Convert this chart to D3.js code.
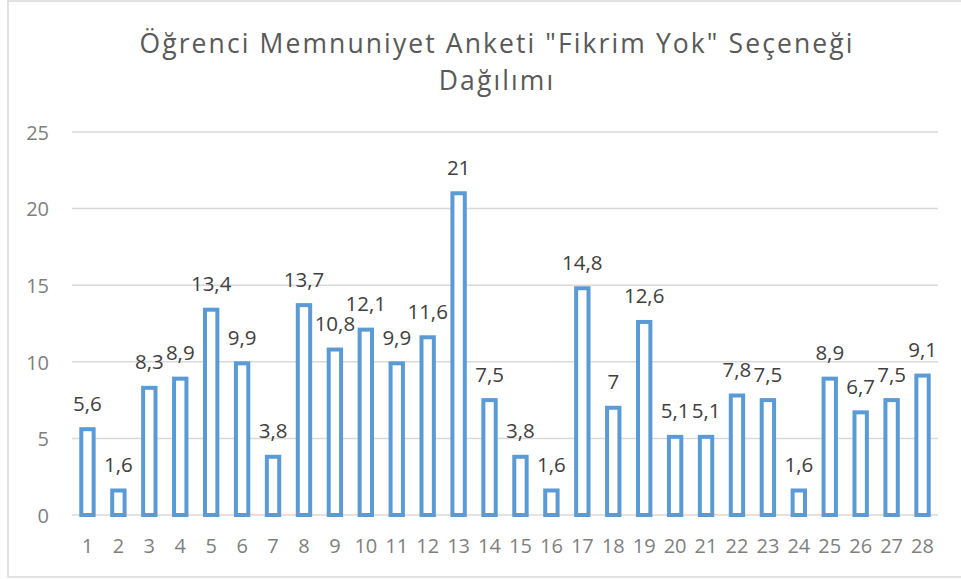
<!DOCTYPE html>
<html>
<head>
<meta charset="utf-8">
<script src="https://cdn.jsdelivr.net/npm/d3@7"></script>
<style>
  body { margin: 0; background: #fff; }
  text { font-family: "Open Sans", sans-serif; }
</style>
</head>
<body>
<svg id="chart" width="961" height="579"></svg>
<script>
// dados do gráfico
var kategoriler = d3.range(1, 29).map(String);
var degerler = [5.6, 1.6, 8.3, 8.9, 13.4, 9.9, 3.8, 13.7, 10.8, 12.1, 9.9, 11.6, 21, 7.5,
                3.8, 1.6, 14.8, 7, 12.6, 5.1, 5.1, 7.8, 7.5, 1.6, 8.9, 6.7, 7.5, 9.1];
var yTikler = [0, 5, 10, 15, 20, 25];
var baslik = ["Öğrenci Memnuniyet Anketi \"Fikrim Yok\" Seçeneği", "Dağılımı"];

var svg = d3.select("#chart");
var alan = { sol: 72, sag: 938, ust: 132, alt: 515 };

// çerçeve
svg.append("rect")
    .attr("x", 8).attr("y", 1)
    .attr("width", 965).attr("height", 576)
    .attr("fill", "none")
    .attr("stroke", "#d9d9d9")
    .attr("stroke-width", 1.5);

// başlık
svg.append("g").selectAll("text")
  .data(baslik)
  .enter().append("text")
    .attr("x", 497)
    .attr("y", function(d, i) { return 53 + i * 37; })
    .attr("text-anchor", "middle")
    .attr("font-size", 26.5)
    .attr("letter-spacing", 2.1)
    .attr("fill", "#595959")
    .text(function(d) { return d; });

var x = d3.scaleBand()
    .domain(kategoriler)
    .range([alan.sol, alan.sag])
    .paddingInner(0.6)
    .paddingOuter(0.3);

var y = d3.scaleLinear()
    .domain([0, 25])
    .range([alan.alt, alan.ust]);

// yatay ızgara
svg.append("g").selectAll("line")
  .data(yTikler)
  .enter().append("line")
    .attr("x1", alan.sol).attr("x2", alan.sag)
    .attr("y1", function(d) { return y(d); })
    .attr("y2", function(d) { return y(d); })
    .attr("stroke", "#d9d9d9")
    .attr("stroke-width", 1.5);

// y ekseni etiketleri
var yEksen = d3.axisLeft(y).tickValues(yTikler).tickSize(0).tickPadding(0);
var gy = svg.append("g")
    .attr("transform", "translate(49,0)")
    .call(yEksen);
gy.select(".domain").remove();
gy.selectAll("text")
    .attr("font-family", "Open Sans")
    .attr("font-size", 20)
    .attr("fill", "#7f7f7f")
    .attr("dy", "0.36em");

// x ekseni etiketleri
var xEksen = d3.axisBottom(x).tickSize(0).tickPadding(0);
var gx = svg.append("g")
    .attr("transform", "translate(0,539)")
    .call(xEksen);
gx.select(".domain").remove();
gx.selectAll("text")
    .attr("font-family", "Open Sans")
    .attr("font-size", 20)
    .attr("fill", "#7f7f7f")
    .attr("dy", "0.7em");

// çubuklar (sadece kenar)
var veri = kategoriler.map(function(k, i) { return { kat: k, deger: degerler[i] }; });
svg.append("g").selectAll("rect")
  .data(veri)
  .enter().append("rect")
    .attr("x", function(d) { return x(d.kat); })
    .attr("y", function(d) { return y(d.deger); })
    .attr("width", x.bandwidth())
    .attr("height", function(d) { return y(0) - y(d.deger); })
    .attr("fill", "#fff")
    .attr("stroke", "#5b9bd5")
    .attr("stroke-width", 4);

// değer etiketleri
svg.append("g").selectAll("text")
  .data(veri)
  .enter().append("text")
    .attr("x", function(d) { return x(d.kat) + x.bandwidth() / 2; })
    .attr("y", function(d) { return y(d.deger) - 18.5; })
    .attr("text-anchor", "middle")
    .attr("font-size", 20.5)
    .attr("fill", "#404040")
    .text(function(d) { return String(d.deger).replace(".", ","); });
</script>
</body>
</html>
